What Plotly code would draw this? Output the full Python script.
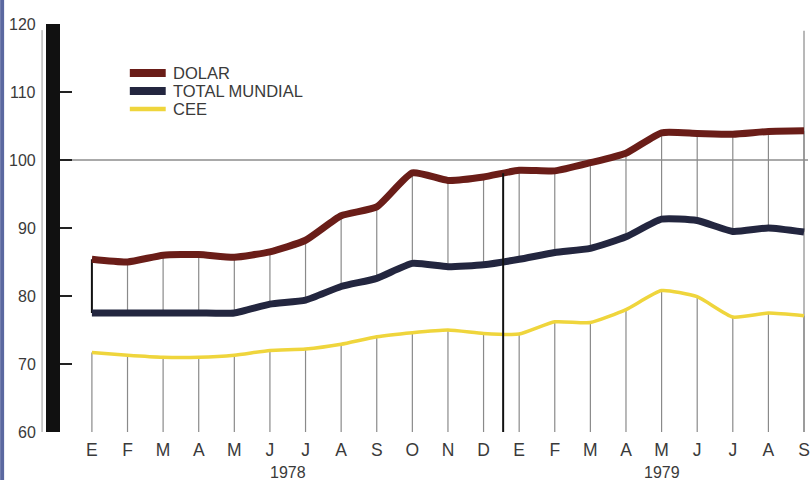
import plotly.graph_objects as go

months = ["E", "F", "M", "A", "M", "J", "J", "A", "S", "O", "N", "D",
          "E", "F", "M", "A", "M", "J", "J", "A", "S"]
year_labels = ["1978", "1979"]
year_pos = [5.5, 16]
series_names = ["DOLAR", "TOTAL MUNDIAL", "CEE"]
dolar = [85.4, 85.0, 86.0, 86.1, 85.7, 86.5, 88.2, 91.8, 93.1, 98.1, 97.0, 97.5,
         98.5, 98.4, 99.6, 101.0, 104.0, 103.9, 103.8, 104.2, 104.3]
total = [77.5, 77.5, 77.5, 77.5, 77.5, 78.8, 79.4, 81.4, 82.6, 84.8, 84.3, 84.6,
         85.4, 86.4, 87.0, 88.7, 91.3, 91.1, 89.5, 90.0, 89.4]
cee = [71.7, 71.3, 71.0, 71.0, 71.3, 72.0, 72.2, 72.9, 74.0, 74.6, 75.0, 74.5,
       74.4, 76.2, 76.1, 78.0, 80.8, 79.9, 76.9, 77.5, 77.1]
yticks = [60, 70, 80, 90, 100, 110, 120]

x = list(range(len(months)))
FONT = "Liberation Sans, Arial, sans-serif"
TXT = "#3a3a3a"
colors = ["#6a1d18", "#23263f", "#efd53c"]
widths = [7, 7, 3.5]

fig = go.Figure()

# vertical drop lines (gray)
vx, vy = [], []
for i in x:
    vx += [i, i, None]
    vy += [60, cee[i], None]
    if i > 0:
        vx += [i, i, None]
        vy += [total[i], dolar[i], None]
fig.add_trace(go.Scatter(x=vx, y=vy, mode="lines", line=dict(color="#8a8a8a", width=1.2),
                         showlegend=False, hoverinfo="skip"))
# first month connector (black)
fig.add_trace(go.Scatter(x=[x[0], x[0]], y=[total[0], dolar[0]], mode="lines",
                         line=dict(color="#111111", width=2), showlegend=False, hoverinfo="skip"))

for name, vals, c, w in zip(series_names, [dolar, total, cee], colors, widths):
    fig.add_trace(go.Scatter(x=x, y=vals, mode="lines", name=name, showlegend=False,
                             line=dict(color=c, width=w, shape="spline", smoothing=0.5)))

# year separator (between D and E)
sep_x = 11.55
sep_top = dolar[11] + 0.55 * (dolar[12] - dolar[11])
shapes = [
    dict(type="line", xref="x", yref="y", x0=sep_x, x1=sep_x, y0=60, y1=sep_top,
         line=dict(color="#111111", width=2), layer="above"),
    dict(type="line", xref="paper", yref="y", x0=0, x1=1, y0=100, y1=100,
         line=dict(color="#555555", width=1), layer="below"),
    dict(type="line", xref="x", yref="y", x0=20, x1=20, y0=60, y1=119,
         line=dict(color="#8a8a8a", width=1.2), layer="below"),
    dict(type="line", xref="paper", yref="paper", x0=-0.024, x1=-0.024, y0=0, y1=0.985,
         line=dict(color="#9a9a9a", width=1)),
    dict(type="rect", xref="paper", yref="paper", x0=-0.08, x1=-0.0747, y0=-0.12, y1=1.06,
         line=dict(width=0), fillcolor="#5b68a0"),
]

annotations = [
    dict(x=p, y=-0.1, xref="x", yref="paper", text=t, showarrow=False,
         font=dict(family=FONT, size=16, color=TXT), yanchor="middle")
    for p, t in zip(year_pos, year_labels)
]

plot_w, plot_h, ml, mt = 750, 408, 60, 24

# y tick labels placed as text at the axis values
for v in yticks:
    annotations.append(dict(x=(37 - ml) / plot_w, y=v, xref="paper", yref="y", text=str(v),
                            showarrow=False, xanchor="right", yanchor="middle",
                            borderpad=0, font=dict(family=FONT, size=16, color=TXT)))

# manual legend (pixel-placed, paper coordinates)
leg_rows = [73, 91, 109]
for name, c, w, ry in zip(series_names, colors, widths, leg_rows):
    py = 1 - (ry - mt) / plot_h
    shapes.append(dict(type="line", xref="paper", yref="paper",
                       x0=(130 - ml) / plot_w, x1=(166 - ml) / plot_w, y0=py, y1=py,
                       line=dict(color=c, width=w + 1)))
    annotations.append(dict(x=(171 - ml) / plot_w, y=py, xref="paper", yref="paper",
                            text=name, showarrow=False, xanchor="left", yanchor="middle",
                            font=dict(family=FONT, size=16.5, color=TXT)))

fig.update_layout(
    width=810, height=480,
    margin=dict(l=60, r=0, t=24, b=48),
    paper_bgcolor="white", plot_bgcolor="white",
    font=dict(family=FONT, color=TXT),
    shapes=shapes, annotations=annotations, showlegend=False,
    xaxis=dict(range=[-0.896, 20.112], tickmode="array", tickvals=x, ticktext=months,
               showgrid=False, zeroline=False, showline=False, ticks="",
               ticklabeloverflow="allow", ticklabelstandoff=5,
               tickfont=dict(family=FONT, size=17.5, color=TXT)),
    yaxis=dict(range=[60, 120], tickmode="array", tickvals=yticks, showticklabels=False,
               showgrid=False, zeroline=False, showline=True, linecolor="#111111", linewidth=14,
               ticks="inside", ticklen=12, tickcolor="#222222", tickwidth=1.5),
)

fig.write_html("out.html")
